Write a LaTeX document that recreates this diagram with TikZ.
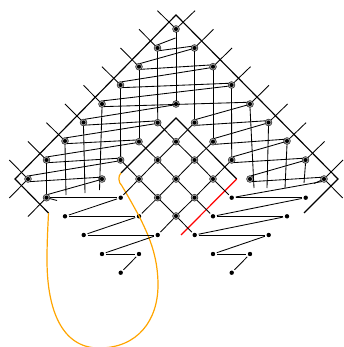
\documentclass[tikz,border=0pt]{standalone}
\begin{document}
\begin{tikzpicture}[x=1pt,y=-1pt,
  ring/.style={circle,draw=black!80,fill=black!35,line width=0.6pt,minimum size=6.8pt,inner sep=0pt,outer sep=0pt,
    path picture={\fill[black] (path picture bounding box.center) circle (2pt);}},
  pt/.style={circle,fill=black,minimum size=4.4pt,inner sep=0pt,outer sep=1.8pt},
  strand/.style={line width=0.85pt,black},
  frame/.style={line width=1.15pt,black},
  orangeline/.style={line width=1.2pt,color={rgb,255:red,255;green,165;blue,0}},
  redline/.style={line width=1.2pt,red}]
\useasboundingbox (0,0) rectangle (344,347);
% ringed nodes
\foreach \n/\x/\y in {T/176/29,L1/157.5/48,L2/139/66.7,L3/120.5/85,L4/102/104,L5/83.5/122.5,L6/65/141,L7/46.5/160,L8/28/179,L9/46.5/197.7,
  R1/194.5/48,R2/213/66.7,R3/231.5/85,R4/250/104,R5/268.5/122.5,R6/287/141,R7/305.5/160,R8/324/179,
  M/176/104,I1/157.7/122.7,I2/139/141.7,I3/120.6/160,I4/102/179,
  J1/194.5/122.7,J2/213/141.7,J3/231.7/160,K/250/179,
  C1/176/141.7,C2/157.7/160,C3/194.5/160,C4/139/179,C5/176/179,C6/213/179,C7/157.7/197.7,C8/194.5/197.7,C9/176/216}
  {\node[ring] (\n) at (\x,\y) {};}
% plain nodes
\foreach \n/\x/\y in {a1/120.7/197.7,a2/65/216.3,a3/139/216.3,a4/83.7/235,a5/157.7/235,a6/102/254,a7/139/254,a8/120.7/272.7,
  b1/231.7/197.7,b2/305.7/197.7,b3/213/216.3,b4/287/216.3,b5/194.7/235,b6/268.7/235,b7/213/254,b8/250/254,b9/231.7/272.7}
  {\node[pt] (\n) at (\x,\y) {};}
% free ends
\foreach \n/\x/\y in {
  tT/157.5/10.7,tL1/139/29.3,tL2/120.5/48,tL3/102/66.7,tL4/83.5/85.3,tL5/65/104,tL6/46.5/122.7,tL7/28/141.5,tL8/9.3/160,
  uT/195/10.7,uR1/213.5/29.3,uR2/232/48,uR3/250.5/66.7,uR4/269/85.3,uR5/287.5/104,uR6/306/122.7,uR7/324.5/141.5,uR8/343/160,
  dL8/9.3/198,dL9/28/216.5,dR8/342.7/198,
  vL4/99.5/190,vL5/85/193,vL6/66/195,vR4/254/188,vR5/267/188,vR6/285/188,vR7/304/183,
  sL/57/200.5,sR/314/183.5,jT/175.5/38,
  fa/48.5/213,fb/15/179,fc/176/15,fd/338/179,fe/304/213,
  ga/121/173,gb/176/118,gc/236.7/179,gd/181/235}
  {\coordinate (\n) at (\x,\y);}
% frames
\draw[frame,line join=miter] (fa) -- (fb) -- (fc) -- (fd) -- (fe);
\draw[frame] (ga) -- (gb) -- (gc);
\draw[redline] (gc) -- (gd);
\draw[orangeline] (ga) .. controls (118,176) and (118,182) .. (122,186)
  .. controls (128,196) and (133,205) .. (139,216)
  .. controls (148,234) and (158,255) .. (158,285)
  .. controls (158,320) and (138,348) .. (99,348)
  .. controls (62,348) and (47,310) .. (47,260)
  .. controls (47,240) and (48,225) .. (fa);
% legs
\foreach \a/\b in {T/tT,L1/tL1,L2/tL2,L3/tL3,L4/tL4,L5/tL5,L6/tL6,L7/tL7,L8/tL8,
  T/uT,R1/uR1,R2/uR2,R3/uR3,R4/uR4,R5/uR5,R6/uR6,R7/uR7,R8/uR8,L8/dL8,L9/dL9,R8/dR8}
  {\draw[strand] (\a) -- (\b);}
% verticals
\foreach \a/\b in {T/M,L1/I1,L2/I2,L3/I3,L4/vL4,L5/vL5,L6/vL6,L7/L9,R1/J1,R2/J2,R3/J3,R4/vR4,R5/vR5,R6/vR6,R7/vR7}
  {\draw[strand] (\a.south) -- (\b);}
\draw[strand] (L1.80) -- (jT);
\draw[strand] (R8.205) -- (sR);
\draw[strand] (L9.-15) -- (sL);
% zig-zags between the two chains
\foreach \a/\b in {L1/R1,L2/R2,L3/R3,L4/R4,L5/I1,L6/I2,L7/I3,L8/I4,J1/R5,J2/R6,J3/R7,K/R8}
  {\draw[strand] (\a.-50) -- (\b.150);}
\foreach \a/\b in {L2/R1,L3/R2,L4/R3,L5/M,L6/I1,L7/I2,L8/I3,L9/I4,J1/R4,J2/R5,J3/R6,K/R7}
  {\draw[strand] (\a.70) -- (\b.200);}
\draw[strand] (R8.230) -- (b1);
% lattice
\foreach \a/\b in {I1/C1,C1/C3,C3/C6,C6/b1,I2/C2,C2/C5,C5/C8,C8/b3,I3/C4,C4/C7,C7/C9,C9/b5,
  J1/C1,C1/C2,C2/C4,C4/a1,J2/C3,C3/C5,C5/C7,C7/a3,J3/C6,C6/C8,C8/C9,C9/a5}
  {\draw[strand] (\a) -- (\b);}
% lower zig-zags
\foreach \a/\b in {L9/a1,a1/a2,a2/a3,a3/a4,a4/a5,a5/a6,a6/a7,a7/a8,
  b1/b2,b2/b3,b3/b4,b4/b5,b5/b6,b6/b7,b7/b8,b8/b9}
  {\draw[strand] (\a) -- (\b);}
\end{tikzpicture}
\end{document}
